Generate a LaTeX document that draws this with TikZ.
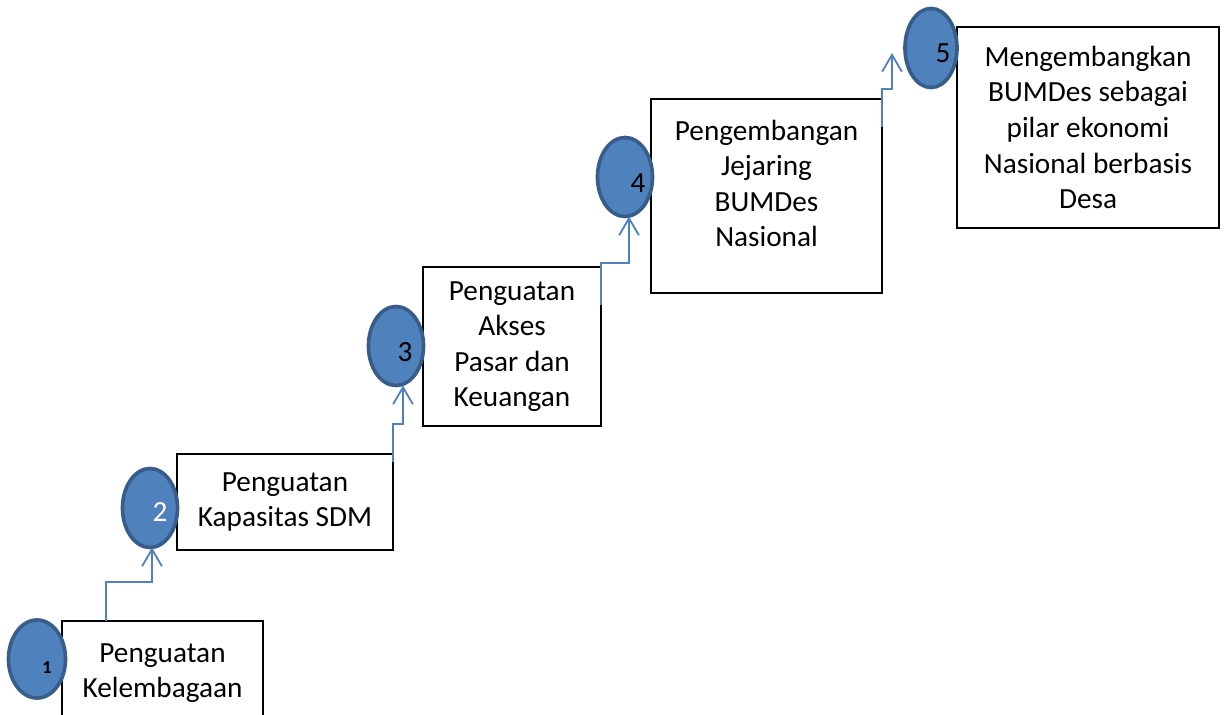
\documentclass[tikz,border=0pt]{standalone}
\usepackage{fontspec}
\setmainfont{Carlito}
\usepackage{tikz}
\usetikzlibrary{shapes.geometric,arrows.meta,calc,positioning}
\definecolor{stepblue}{HTML}{4F81BD}
\definecolor{stepedge}{HTML}{385D8A}

\begin{document}
\begin{tikzpicture}[x=0.025cm,y=-0.025cm,
    box/.style={rectangle,draw,line width=0.9pt,anchor=north west,
      inner sep=0pt,outer sep=0pt,align=center,
      font=\fontsize{20.8}{25.3}\selectfont},
    badge/.style={ellipse,draw=stepedge,fill=stepblue,
      line width=2.6pt,minimum width=1.375cm,minimum height=1.975cm,
      inner sep=0pt,outer sep=0pt},
    num/.style={inner sep=0pt,font=\fontsize{20.8}{25.3}\selectfont},
    flow/.style={draw=stepblue,line width=1.3pt,
      -{Straight Barb[length=12pt,width=14pt]}}]
  \useasboundingbox (0,0) rectangle (1225,715);

  % the five steps
  \node[box,minimum width=5.025cm,minimum height=2.6cm] (k1) at (62,621)
    {Penguatan\\Kelembagaan};
  \node[box,minimum width=5.4cm,minimum height=2.4cm] (k2) at (177,454)
    {Penguatan\\Kapasitas SDM};
  \node[box,minimum width=4.45cm,minimum height=3.975cm] (k3) at (423,267)
    {Penguatan\\Akses\\Pasar dan\\Keuangan};
  \node[box,minimum width=5.775cm,minimum height=4.85cm] (k4) at (651,99)
    {Pengembangan\\Jejaring\\BUMDes\\Nasional\rule[-18pt]{0pt}{1pt}};
  \node[box,minimum width=6.55cm,minimum height=5.025cm] (k5) at (957,27)
    {Mengembangkan\\BUMDes sebagai\\pilar ekonomi\\Nasional berbasis\\Desa};

  % numbered ellipses
  \node[badge,minimum width=1.425cm,minimum height=1.95cm] (e1) at (37,659) {};
  \node[badge] (e2) at (150,508) {};
  \node[badge] (e3) at (396,346) {};
  \node[badge] (e4) at (625,177) {};
  \node[badge,minimum width=1.3cm] (e5) at (931,48) {};

  \node[num,font=\bfseries\fontsize{13}{15}\selectfont] (n1) at (47,668) {1};
  \node[num,text=white] (n2) at (160,512) {2};
  \node[num] (n3) at (405,352) {3};
  \node[num] (n4) at (638,183) {4};
  \node[num] (n5) at (943,53) {5};

  % stair connectors
  \draw[flow] ($(k1.north west)+(44,0)$) -- ++(0,-39) -| ($(e2.south)+(2,0)$);
  \draw[flow] ($(k2.north east)+(0,8)$) -- ++(0,-38) -| ($(e3.south)+(7,0)$);
  \draw[flow] ($(k3.north east)+(0,38)$) -- ++(0,-42) -| ($(e4.south)+(4,0)$);
  \draw[flow] ($(k4.north east)+(0,28)$) -- ++(0,-38) -| ($(e5.west)+(-13,5)$);
\end{tikzpicture}
\end{document}
